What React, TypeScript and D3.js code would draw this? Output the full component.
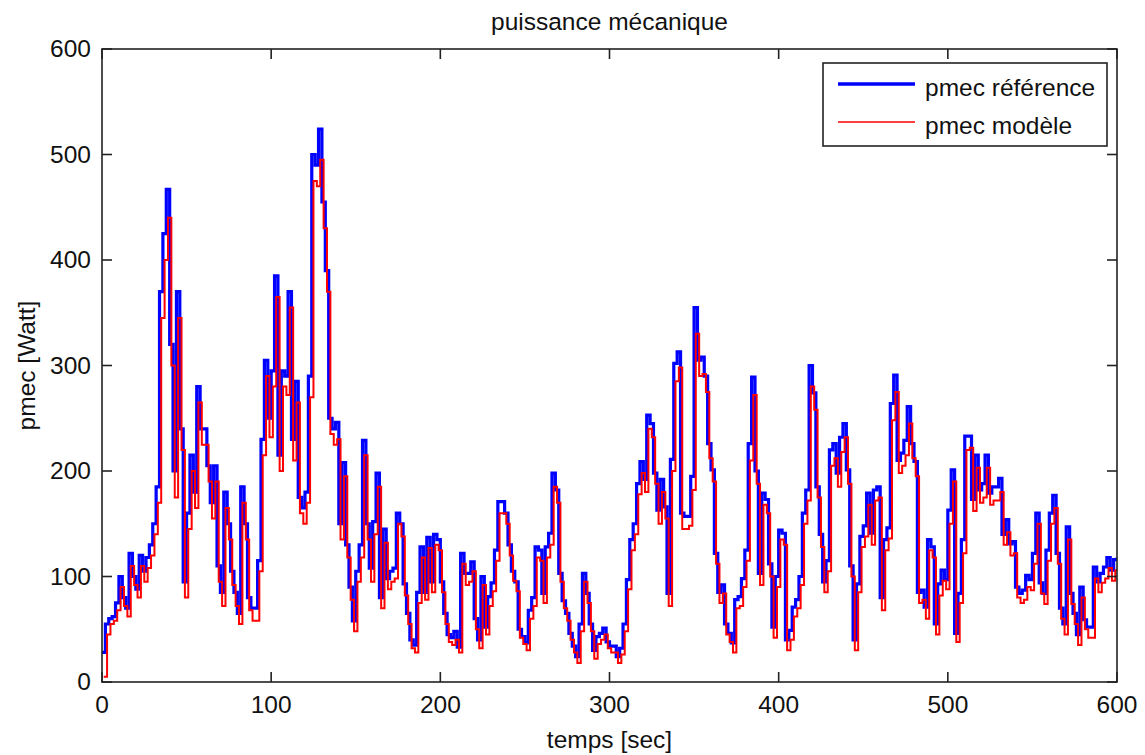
import React from 'react';
import * as d3 from 'd3';

// pmec référence, sampled every 2 s (t = 0, 2, ..., 600)
const pmecReference: number[] = [
  28, 55, 60, 62, 75, 100, 80, 70, 122, 100,
  88, 120, 105, 118, 130, 150, 185, 370, 425, 467,
  320, 200, 370, 240, 95, 160, 215, 180, 280, 240,
  240, 205, 170, 205, 110, 85, 180, 150, 105, 85,
  65, 185, 150, 80, 70, 70, 115, 230, 305, 250,
  295, 385, 215, 295, 290, 370, 230, 285, 175, 165,
  180, 290, 500, 490, 524, 455, 390, 250, 240, 246,
  150, 208, 130, 90, 58, 105, 130, 229, 150, 108,
  152, 198, 80, 145, 98, 105, 108, 160, 150, 93,
  65, 40, 35, 85, 128, 85, 137, 95, 140, 135,
  95, 65, 45, 42, 48, 33, 122, 103, 103, 114,
  60, 40, 100, 52, 81, 94, 125, 171, 171, 160,
  130, 105, 95, 50, 43, 37, 68, 80, 128, 125,
  84, 128, 141, 198, 182, 103, 77, 65, 46, 34,
  24, 55, 103, 84, 55, 30, 43, 46, 51, 38,
  34, 34, 24, 32, 55, 97, 135, 150, 188, 209,
  192, 253, 245, 198, 163, 192, 166, 84, 211, 302,
  313, 160, 157, 157, 195, 355, 305, 308, 290, 226,
  201, 122, 85, 92, 55, 46, 37, 78, 81, 98,
  125, 226, 289, 200, 103, 179, 173, 112, 52, 100,
  144, 141, 40, 49, 71, 78, 100, 160, 182, 300,
  274, 185, 140, 95, 115, 220, 226, 198, 232, 245,
  201, 110, 40, 93, 138, 148, 179, 141, 182, 185,
  80, 135, 146, 264, 291, 210, 217, 229, 261, 226,
  209, 85, 87, 71, 135, 128, 55, 93, 106, 97,
  163, 201, 46, 84, 135, 233, 233, 173, 215, 182,
  188, 215, 179, 185, 185, 193, 140, 154, 131, 133,
  90, 84, 87, 101, 97, 122, 160, 94, 84, 125,
  160, 177, 122, 70, 55, 147, 84, 65, 45, 90,
  59, 52, 52, 109, 95, 103, 109, 118, 106, 116,
  118,
];

// pmec modèle, sampled every 2 s (t = 1, 3, ..., 601)
const pmecModele: number[] = [
  5, 45, 55, 58, 68, 90, 72, 62, 110, 92,
  80, 110, 95, 108, 120, 140, 170, 345, 400, 440,
  300, 175, 345, 220, 80, 145, 200, 165, 265, 225,
  225, 190, 155, 190, 95, 72, 165, 135, 92, 72,
  55, 170, 135, 68, 58, 58, 105, 215, 290, 232,
  280, 365, 200, 280, 272, 355, 210, 265, 160, 150,
  170, 270, 475, 470, 495, 430, 370, 235, 225, 230,
  135, 195, 118, 78, 48, 95, 118, 215, 135, 95,
  140, 185, 70, 132, 88, 95, 98, 150, 138, 82,
  55, 32, 28, 75, 118, 78, 127, 85, 130, 125,
  85, 55, 38, 35, 40, 28, 112, 92, 95, 105,
  50, 32, 92, 45, 72, 86, 115, 160, 160, 150,
  120, 96, 86, 42, 36, 30, 60, 72, 118, 115,
  75, 118, 130, 185, 170, 95, 70, 58, 40, 28,
  18, 48, 95, 75, 48, 22, 36, 40, 45, 32,
  28, 28, 18, 26, 48, 88, 125, 140, 178, 198,
  180, 240, 232, 188, 150, 180, 155, 72, 200, 285,
  298, 145, 145, 148, 182, 330, 290, 292, 275, 212,
  190, 112, 75, 84, 45, 38, 28, 70, 72, 90,
  115, 210, 272, 188, 92, 168, 160, 100, 42, 90,
  135, 130, 30, 40, 62, 70, 92, 150, 172, 280,
  258, 175, 128, 85, 105, 205, 212, 185, 218, 232,
  188, 100, 30, 85, 128, 138, 168, 130, 172, 175,
  68, 125, 136, 248, 275, 198, 205, 215, 245, 212,
  195, 75, 78, 60, 125, 118, 45, 82, 96, 88,
  150, 190, 38, 75, 122, 220, 222, 162, 203, 170,
  175, 203, 168, 172, 172, 180, 130, 142, 120, 122,
  80, 75, 78, 90, 87, 112, 150, 84, 74, 115,
  150, 165, 112, 60, 45, 135, 74, 55, 35, 80,
  50, 42, 42, 98, 85, 94, 98, 108, 96, 106,
  108,
];

const sampleStep = 2;
const xTicks = [0, 100, 200, 300, 400, 500, 600];
const yTicks = [0, 100, 200, 300, 400, 500, 600];
const chartTitle = 'puissance mécanique';
const xLabel = 'temps [sec]';
const yLabel = 'pmec [Watt]';
const legendLabels = ['pmec référence', 'pmec modèle'];

export default function App() {
  const W = 1145;
  const H = 755;
  const left = 102, right = 1117, top = 49, bottom = 682;
  const font = "'Liberation Sans', Arial, sans-serif";
  const fs = 24.5;
  const tickLen = 10;

  const x = d3.scaleLinear().domain([0, 600]).range([left, right]);
  const y = d3.scaleLinear().domain([0, 600]).range([bottom, top]);

  const blueData: [number, number][] = pmecReference.map((v, i) => [i * sampleStep, v]);
  const redData: [number, number][] = pmecModele.map((v, i) => [i * sampleStep + sampleStep / 2, v]);

  const line = d3
    .line<[number, number]>()
    .x((d) => x(d[0]))
    .y((d) => y(d[1]))
    .curve(d3.curveStepAfter);

  const lx = 823, ly = 63, lw = 284, lh = 83;

  return (
    <svg
      width={W}
      height={H}
      style={{ position: 'absolute', left: 0, top: 0, background: '#fff' }}
      fontFamily={font}
    >
      <defs>
        <clipPath id="plotClip">
          <rect x={left} y={top} width={right - left} height={bottom - top} />
        </clipPath>
      </defs>
      <rect x={0} y={0} width={W} height={H} fill="#fff" />
      <rect x={left} y={top} width={right - left} height={bottom - top} fill="#fff" />

      <g clipPath="url(#plotClip)">
        <path d={line(blueData) || ''} fill="none" stroke="#0000ff" strokeWidth={3.2} />
        <path d={line(redData) || ''} fill="none" stroke="#ff0000" strokeWidth={2} />
      </g>

      {/* frame */}
      <rect x={left} y={top} width={right - left} height={bottom - top} fill="none" stroke="#222" strokeWidth={1.6} />

      {/* x ticks */}
      {xTicks.map((t) => (
        <g key={'x' + t}>
          <line x1={x(t)} x2={x(t)} y1={bottom} y2={bottom - tickLen} stroke="#222" strokeWidth={1.6} />
          <line x1={x(t)} x2={x(t)} y1={top} y2={top + tickLen} stroke="#222" strokeWidth={1.6} />
          <text x={x(t)} y={bottom + 31} textAnchor="middle" fontSize={fs} fill="#111">
            {t}
          </text>
        </g>
      ))}

      {/* y ticks */}
      {yTicks.map((t) => (
        <g key={'y' + t}>
          <line x1={left} x2={left + tickLen} y1={y(t)} y2={y(t)} stroke="#222" strokeWidth={1.6} />
          <line x1={right} x2={right - tickLen} y1={y(t)} y2={y(t)} stroke="#222" strokeWidth={1.6} />
          <text x={left - 11} y={y(t) + 8} textAnchor="end" fontSize={fs} fill="#111">
            {t}
          </text>
        </g>
      ))}

      <text x={(left + right) / 2} y={30} textAnchor="middle" fontSize={fs} fill="#111">
        {chartTitle}
      </text>
      <text x={(left + right) / 2} y={748} textAnchor="middle" fontSize={fs} fill="#111">
        {xLabel}
      </text>
      <text
        transform={`translate(35, ${(top + bottom) / 2}) rotate(-90)`}
        textAnchor="middle"
        fontSize={fs}
        fill="#111"
      >
        {yLabel}
      </text>

      {/* legend */}
      <rect x={lx} y={ly} width={lw} height={lh} fill="#fff" stroke="#222" strokeWidth={1.6} />
      <line x1={838} x2={915} y1={84} y2={84} stroke="#0000ff" strokeWidth={3.5} />
      <text x={925} y={96} fontSize={fs} fill="#111">
        {legendLabels[0]}
      </text>
      <line x1={838} x2={915} y1={122} y2={122} stroke="#ff0000" strokeWidth={1.5} />
      <text x={925} y={134} fontSize={fs} fill="#111">
        {legendLabels[1]}
      </text>
    </svg>
  );
}
